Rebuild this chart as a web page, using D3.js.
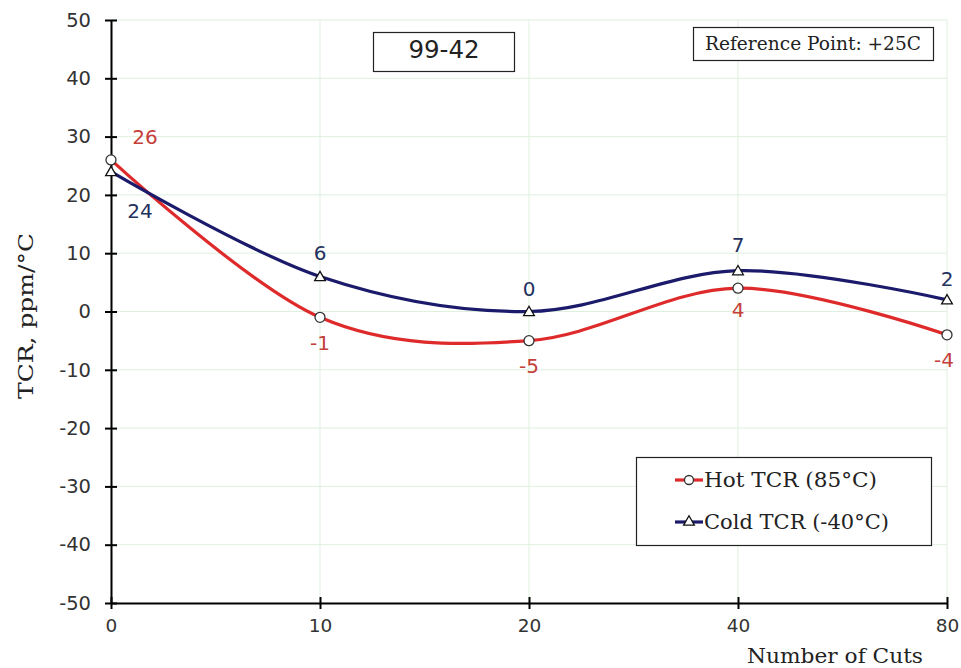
<!DOCTYPE html>
<html>
<head>
<meta charset="utf-8">
<script src="https://cdn.jsdelivr.net/npm/d3@7"></script>
<style>
  html, body { margin: 0; padding: 0; background: #fff; }
  svg { display: block; }
</style>
</head>
<body>
<svg id="chart" width="961" height="668"></svg>
<script>
// Number of cuts (categorical x axis)
const cuts = ["0", "10", "20", "40", "80"];
// TCR values, ppm/°C
const hotTCR = [26, -1, -5, 4, -4];
const coldTCR = [24, 6, 0, 7, 2];
const yTicks = [-50, -40, -30, -20, -10, 0, 10, 20, 30, 40, 50];
const seriesNames = ["Hot TCR (85°C)", "Cold TCR (-40°C)"];
const partLabel = "99-42";
const refLabel = "Reference Point: +25C";
const xTitle = "Number of Cuts";
const yTitle = "TCR, ppm/°C";

const svg = d3.select("#chart");
const plotLeft = 111, plotRight = 947, plotTop = 20, plotBottom = 603;

const x = d3.scalePoint().domain(cuts).range([plotLeft, plotRight]).padding(0);
const y = d3.scaleLinear().domain([-50, 50]).range([plotBottom, plotTop]);

const hotColor = "#de2a2a", coldColor = "#1b1a6b";
const hotLabelColor = "#c5403a", coldLabelColor = "#24305e";
const sans = "'DejaVu Sans', Verdana, sans-serif";
const serif = "'DejaVu Serif', Georgia, serif";
const plainNum = d => String(d).replace("\u2212", "-");

// gridlines
const grid = svg.append("g").attr("stroke", "#dff0df").attr("stroke-width", 1);
grid.selectAll("line.h").data(yTicks).join("line").attr("class", "h")
  .attr("x1", plotLeft).attr("x2", plotRight)
  .attr("y1", d => y(d)).attr("y2", d => y(d));
grid.selectAll("line.v").data(cuts).join("line").attr("class", "v")
  .attr("x1", d => x(d)).attr("x2", d => x(d))
  .attr("y1", plotTop).attr("y2", plotBottom);

// axes
const yAxis = svg.append("g").attr("transform", `translate(${plotLeft},0)`)
  .call(d3.axisLeft(y).tickValues(yTicks).tickSizeOuter(0).tickFormat(d => plainNum(d)));
yAxis.select(".domain").attr("stroke", "#000").attr("stroke-width", 2);
yAxis.selectAll(".tick line").attr("stroke", "#000").attr("stroke-width", 2).attr("x1", -6).attr("x2", 6);
yAxis.selectAll(".tick text").attr("font-family", sans).attr("font-size", 19.5).attr("fill", "#333").attr("x", -20);

const xAxis = svg.append("g").attr("transform", `translate(0,${plotBottom})`)
  .call(d3.axisBottom(x).tickSizeOuter(0));
xAxis.select(".domain").attr("stroke", "#000").attr("stroke-width", 2);
xAxis.selectAll(".tick line").attr("stroke", "#000").attr("stroke-width", 2).attr("y1", -6).attr("y2", 6);
xAxis.selectAll(".tick text").attr("font-family", sans).attr("font-size", 18.5).attr("fill", "#333").attr("y", 16);

// axis titles
svg.append("text").attr("x", 747).attr("y", 663)
  .attr("textLength", 176).attr("lengthAdjust", "spacingAndGlyphs")
  .attr("font-family", serif).attr("font-size", 20).attr("fill", "#222").text(xTitle);
svg.append("text").attr("transform", "translate(33,316) rotate(-90)").attr("text-anchor", "middle")
  .attr("textLength", 166).attr("lengthAdjust", "spacingAndGlyphs")
  .attr("font-family", serif).attr("font-size", 20.5).attr("fill", "#222").text(yTitle);

// smoothed series lines
const line = d3.line().x((d, i) => x(cuts[i])).y(d => y(d)).curve(d3.curveCatmullRom.alpha(0));
svg.append("path").datum(hotTCR).attr("d", line).attr("fill", "none")
  .attr("stroke", hotColor).attr("stroke-width", 3.2);
svg.append("path").datum(coldTCR).attr("d", line).attr("fill", "none")
  .attr("stroke", coldColor).attr("stroke-width", 3.2);

// markers
const tri = d3.symbol().type(d3.symbolTriangle).size(50);
svg.append("g").selectAll("circle").data(hotTCR).join("circle")
  .attr("cx", (d, i) => x(cuts[i])).attr("cy", d => y(d)).attr("r", 5)
  .attr("fill", "#fff").attr("stroke", "#333").attr("stroke-width", 1.3);
svg.append("g").selectAll("path").data(coldTCR).join("path")
  .attr("d", tri).attr("transform", (d, i) => `translate(${x(cuts[i])},${y(d) + 1})`)
  .attr("fill", "#fff").attr("stroke", "#111").attr("stroke-width", 1.3);

// data labels
const hotOffsets = [[34, -16], [0, 33], [0, 32], [0, 29], [-3, 32]];
const coldOffsets = [[29, 46], [0, -17], [0, -16], [0, -19], [0, -14]];
svg.append("g").selectAll("text").data(hotTCR).join("text")
  .attr("x", (d, i) => x(cuts[i]) + hotOffsets[i][0])
  .attr("y", (d, i) => y(d) + hotOffsets[i][1])
  .attr("text-anchor", "middle").attr("font-family", sans).attr("font-size", 20)
  .attr("fill", hotLabelColor).text(d => plainNum(d));
svg.append("g").selectAll("text").data(coldTCR).join("text")
  .attr("x", (d, i) => x(cuts[i]) + coldOffsets[i][0])
  .attr("y", (d, i) => y(d) + coldOffsets[i][1])
  .attr("text-anchor", "middle").attr("font-family", sans).attr("font-size", 20)
  .attr("fill", coldLabelColor).text(d => plainNum(d));

// part number box
svg.append("rect").attr("x", 373.5).attr("y", 32.5).attr("width", 141).attr("height", 39)
  .attr("fill", "#fff").attr("stroke", "#222").attr("stroke-width", 1.2);
svg.append("text").attr("x", 444).attr("y", 58).attr("text-anchor", "middle")
  .attr("font-family", sans).attr("font-size", 24.5).attr("fill", "#222").text(partLabel);

// reference point box
svg.append("rect").attr("x", 693.5).attr("y", 27.5).attr("width", 240).attr("height", 33)
  .attr("fill", "#fff").attr("stroke", "#222").attr("stroke-width", 1.2);
svg.append("text").attr("x", 705).attr("y", 49.5)
  .attr("textLength", 216).attr("lengthAdjust", "spacingAndGlyphs")
  .attr("font-family", serif).attr("font-size", 19).attr("fill", "#222").text(refLabel);

// legend
const lg = svg.append("g");
lg.append("rect").attr("x", 636.5).attr("y", 457.5).attr("width", 295).attr("height", 88)
  .attr("fill", "#fff").attr("stroke", "#222").attr("stroke-width", 1.2);
const legendRows = [
  { name: seriesNames[0], color: hotColor, y: 480, shape: "circle", len: 173 },
  { name: seriesNames[1], color: coldColor, y: 522, shape: "triangle", len: 185 }
];
legendRows.forEach(r => {
  lg.append("line").attr("x1", 675).attr("x2", 703).attr("y1", r.y).attr("y2", r.y)
    .attr("stroke", r.color).attr("stroke-width", 3.2);
  if (r.shape === "circle") {
    lg.append("circle").attr("cx", 689).attr("cy", r.y).attr("r", 4.5)
      .attr("fill", "#fff").attr("stroke", "#333").attr("stroke-width", 1.3);
  } else {
    lg.append("path").attr("d", tri).attr("transform", `translate(689,${r.y})`)
      .attr("fill", "#fff").attr("stroke", "#111").attr("stroke-width", 1.3);
  }
  lg.append("text").attr("x", 704).attr("y", r.y + 7)
    .attr("textLength", r.len).attr("lengthAdjust", "spacingAndGlyphs")
    .attr("font-family", serif).attr("font-size", 19.5).attr("fill", "#222").text(r.name);
});
</script>
</body>
</html>
